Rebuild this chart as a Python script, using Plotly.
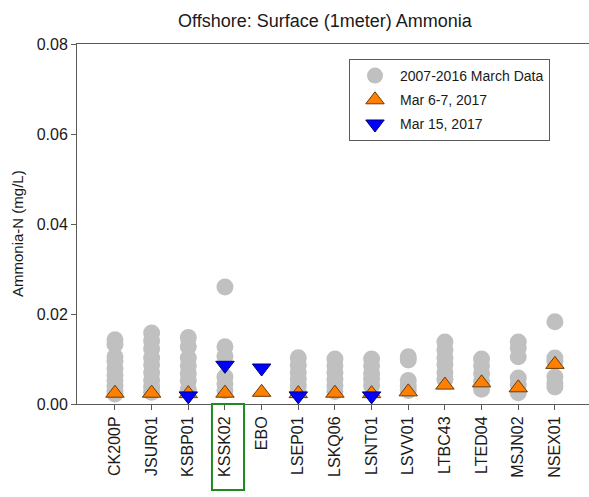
import plotly.graph_objects as go

# Offshore stations along the x axis
stations = ["CK200P", "JSUR01", "KSBP01", "KSSK02", "EBO", "LSEP01", "LSKQ06",
            "LSNT01", "LSVV01", "LTBC43", "LTED04", "MSJN02", "NSEX01"]

# 2007-2016 March surface ammonia-N (mg/L) by station
ck200p = [0.0143, 0.0133, 0.0105, 0.0095, 0.0078, 0.0065, 0.0052, 0.0040, 0.0030, 0.0022]
jsur01 = [0.0158, 0.0140, 0.0122, 0.0102, 0.0087, 0.0070, 0.0053, 0.0038, 0.0026]
ksbp01 = [0.0148, 0.0128, 0.0102, 0.0085, 0.0068, 0.0052, 0.0032]
kssk02 = [0.0260, 0.0127, 0.0106, 0.0060, 0.0045, 0.0030]
ebo = []
lsep01 = [0.0103, 0.0086, 0.0070, 0.0055, 0.0040, 0.0028]
lskq06 = [0.0100, 0.0085, 0.0070, 0.0055, 0.0040, 0.0028]
lsnt01 = [0.0100, 0.0085, 0.0068, 0.0055, 0.0040]
lsvv01 = [0.0105, 0.0098, 0.0052, 0.0040, 0.0030]
ltbc43 = [0.0138, 0.0120, 0.0102, 0.0088, 0.0070, 0.0055]
lted04 = [0.0100, 0.0085, 0.0068, 0.0050, 0.0033]
msjn02 = [0.0138, 0.0125, 0.0105, 0.0058, 0.0042, 0.0025]
nsex01 = [0.0183, 0.0102, 0.0095, 0.0060, 0.0047, 0.0038]
march_history = [ck200p, jsur01, ksbp01, kssk02, ebo, lsep01, lskq06,
                 lsnt01, lsvv01, ltbc43, lted04, msjn02, nsex01]

# 2017 sampling events
mar_6_7_2017 = [0.0024, 0.0024, 0.0023, 0.0024, 0.0026, 0.0023, 0.0024,
                0.0023, 0.0027, 0.0042, 0.0047, 0.0036, 0.0088]
mar_15_2017 = [None, None, 0.0018, 0.0086, 0.0080, 0.0018, None,
               0.0018, None, None, None, None, None]

y_ticks = [0.00, 0.02, 0.04, 0.06, 0.08]

FONT = "Arial, 'Liberation Sans', sans-serif"
AXIS_COLOR = "#5a5a5a"
TEXT_COLOR = "#1a1a1a"

W, H = 589, 497
ML, MR, MT, MB = 77, 0, 44, 93
PLOT_W, PLOT_H = W - ML - MR, H - MT - MB

hist_x = [s for s, vals in zip(stations, march_history) for _ in vals]
hist_y = [v for vals in march_history for v in vals]

fig = go.Figure()
fig.add_trace(go.Scatter(
    x=hist_x, y=hist_y, mode="markers", name="2007-2016 March Data",
    legendgroup="a",
    marker=dict(symbol="circle", size=17, color="#c0c0c0", line=dict(width=0)),
))
fig.add_trace(go.Scatter(
    x=stations, y=mar_6_7_2017, mode="markers", name="Mar 6-7, 2017",
    legendgroup="b",
    marker=dict(symbol="triangle-up", size=16, color="#ff8000",
                line=dict(width=1, color="#6b3a0a")),
))
fig.add_trace(go.Scatter(
    x=stations, y=mar_15_2017, mode="markers", name="Mar 15, 2017",
    legendgroup="c",
    marker=dict(symbol="triangle-down", size=16, color="#0000ff",
                line=dict(width=1, color="#00007a")),
))

# Highlight box around the KSSK02 label
fig.add_shape(type="rect", xref="x", yref="paper",
              x0=3 - 0.355, x1=3 + 0.52, y0=-(490 - 404) / PLOT_H, y1=0.0,
              line=dict(color="#1f8a1f", width=2), fillcolor="rgba(0,0,0,0)")

# Y axis title placed left of the tick labels
fig.add_annotation(text="Ammonia-N (mg/L)", textangle=-90, xref="paper", yref="paper",
                   x=(17 - ML) / PLOT_W, y=(404 - 234) / PLOT_H,
                   xanchor="center", yanchor="middle", showarrow=False,
                   font=dict(family=FONT, size=15, color=TEXT_COLOR))

fig.update_layout(
    width=W, height=H,
    margin=dict(l=ML, r=MR, t=MT, b=MB),
    paper_bgcolor="white", plot_bgcolor="white",
    font=dict(family=FONT, color=TEXT_COLOR),
    title=dict(text="Offshore: Surface (1meter) Ammonia",
               xref="container", x=325 / W, xanchor="center",
               yref="container", y=1 - 21 / H, yanchor="middle",
               font=dict(family=FONT, size=18, color=TEXT_COLOR)),
    showlegend=True,
    legend=dict(x=(349 - ML) / PLOT_W, y=(404 - 59) / PLOT_H, xanchor="left", yanchor="top",
                bgcolor="white", bordercolor=AXIS_COLOR, borderwidth=1,
                font=dict(family=FONT, size=14, color=TEXT_COLOR),
                tracegroupgap=3, itemwidth=40),
    xaxis=dict(type="category", categoryorder="array", categoryarray=stations,
               range=[-1.036, 12.93], showgrid=False, zeroline=False,
               showline=True, linecolor=AXIS_COLOR, linewidth=1, mirror=True,
               ticks="outside", ticklen=5, tickcolor=AXIS_COLOR, tickangle=-90,
               tickfont=dict(family=FONT, size=16, color=TEXT_COLOR)),
    yaxis=dict(range=[0, 0.08], tickvals=y_ticks, tickformat=".2f",
               showgrid=False, zeroline=False,
               showline=True, linecolor=AXIS_COLOR, linewidth=1,
               ticks="outside", ticklen=5, tickcolor=AXIS_COLOR,
               tickfont=dict(family=FONT, size=16, color=TEXT_COLOR)),
)

fig.write_html("out.html")
